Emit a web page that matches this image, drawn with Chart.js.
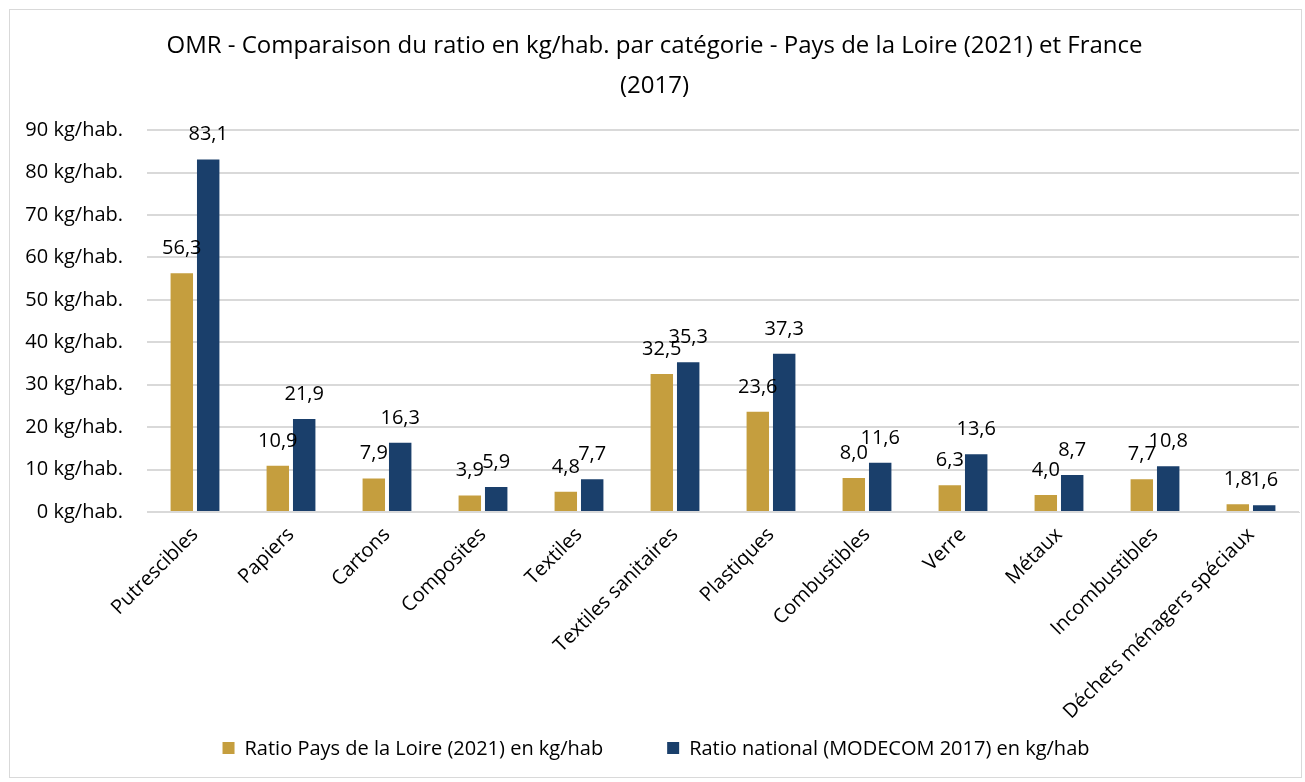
<!DOCTYPE html>
<html>
<head>
<meta charset="utf-8">
<script src="https://cdn.jsdelivr.net/npm/chart.js@4"></script>
<style>
  body { margin: 0; background: #ffffff; }
  #wrap {
    position: absolute; left: 9px; top: 9px;
    width: 1291px; height: 767px;
    border: 1px solid #d9d9d9; background: #fff;
  }
</style>
</head>
<body>
<div id="wrap"><canvas id="chart" width="1291" height="767"></canvas></div>
<script>
// Données
const categories = ['Putrescibles', 'Papiers', 'Cartons', 'Composites', 'Textiles', 'Textiles sanitaires',
    'Plastiques', 'Combustibles', 'Verre', 'Métaux', 'Incombustibles', 'Déchets ménagers spéciaux'];
const ratioPaysDeLaLoire = [56.3, 10.9, 7.9, 3.9, 4.8, 32.5, 23.6, 8.0, 6.3, 4.0, 7.7, 1.8];
const ratioNational = [83.1, 21.9, 16.3, 5.9, 7.7, 35.3, 37.3, 11.6, 13.6, 8.7, 10.8, 1.6];
const yTicks = [0, 10, 20, 30, 40, 50, 60, 70, 80, 90];

const FONT = '"Open Sans", sans-serif';

// Étiquettes de valeurs au-dessus des barres
const valueLabels = {
    id: 'valueLabels',
    afterDatasetsDraw(chart) {
        const ctx = chart.ctx;
        ctx.save();
        ctx.font = '20px ' + FONT;
        ctx.fillStyle = '#000';
        ctx.textAlign = 'center';
        ctx.textBaseline = 'alphabetic';
        chart.data.datasets.forEach((ds, i) => {
            chart.getDatasetMeta(i).data.forEach((bar, j) => {
                const txt = ds.data[j].toFixed(1).replace('.', ',');
                ctx.fillText(txt, bar.x, bar.y - 19);
            });
        });
        ctx.restore();
    }
};

// Légende dessinée à la main (écart horizontal large, peu de hauteur)
const bottomLegend = {
    id: 'bottomLegend',
    afterDraw(chart) {
        const ctx = chart.ctx;
        const y = 738;
        const box = 12, gapText = 10, gapItems = 64;
        ctx.save();
        ctx.font = '20px ' + FONT;
        ctx.textBaseline = 'middle';
        const items = chart.data.datasets.map(ds => ({
            text: ds.label, color: ds.backgroundColor, w: box + gapText + ctx.measureText(ds.label).width
        }));
        const total = items.reduce((a, it) => a + it.w, 0) + gapItems * (items.length - 1);
        let x = 646 - total / 2;
        items.forEach(it => {
            ctx.fillStyle = it.color;
            ctx.fillRect(x, y - box / 2, box, box);
            ctx.fillStyle = '#000';
            ctx.fillText(it.text, x + box + gapText, y + 1);
            x += it.w + gapItems;
        });
        ctx.restore();
    }
};

new Chart(document.getElementById('chart'), {
    type: 'bar',
    data: {
        labels: categories,
        datasets: [
            { label: 'Ratio Pays de la Loire (2021) en kg/hab', data: ratioPaysDeLaLoire, backgroundColor: '#C59E3E' },
            { label: 'Ratio national (MODECOM 2017) en kg/hab', data: ratioNational, backgroundColor: '#1A3F6B' }
        ]
    },
    options: {
        responsive: false,
        animation: false,
        categoryPercentage: 0.55,
        barPercentage: 0.85,
        layout: { padding: { left: 0, right: 2, top: 0, bottom: 55 } },
        plugins: {
            title: {
                display: true,
                text: ['OMR - Comparaison du ratio en kg/hab. par catégorie - Pays de la Loire (2021) et France', '(2017)'],
                color: '#000',
                font: { family: FONT, size: 24, weight: 'normal', lineHeight: 1.67 },
                padding: { top: 16, bottom: 24 }
            },
            legend: { display: false },
            tooltip: { enabled: false }
        },
        scales: {
            x: {
                grid: { display: false },
                border: { color: '#d9d9d9' },
                afterFit(s) { s.height = 210; },
                ticks: {
                    color: '#000',
                    font: { family: FONT, size: 20 },
                    maxRotation: 45, minRotation: 45
                }
            },
            y: {
                min: 0, max: 90,
                afterBuildTicks(axis) { axis.ticks = yTicks.map(v => ({ value: v })); },
                afterFit(s) { s.width = 137; },
                grid: { color: '#d9d9d9', lineWidth: 2, drawTicks: false },
                border: { display: false },
                ticks: {
                    color: '#000',
                    font: { family: FONT, size: 20 },
                    padding: 24,
                    callback: v => v + ' kg/hab.'
                }
            }
        }
    },
    plugins: [valueLabels, bottomLegend]
});
</script>
</body>
</html>
